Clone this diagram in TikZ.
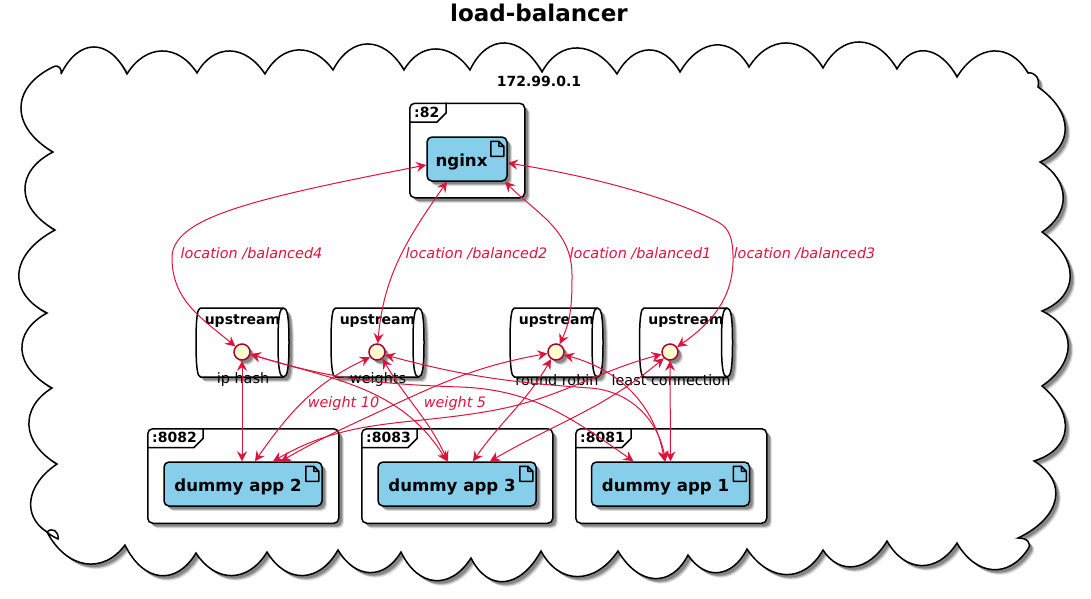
\documentclass[tikz,border=0pt]{standalone}
\usepackage{fontspec}
\setmainfont{DejaVu Sans}
\usetikzlibrary{arrows.meta,calc,shadows}
\definecolor{arrowred}{HTML}{DC143C}
\definecolor{artifactblue}{HTML}{87CEEB}
\definecolor{ifacefill}{HTML}{FEFECE}
\definecolor{ifacedraw}{HTML}{A80036}
\tikzset{
softshadow/.style={
drop shadow={shadow xshift=5pt,shadow yshift=-5pt,fill=black,opacity=.12},
drop shadow={shadow xshift=4pt,shadow yshift=-4pt,fill=black,opacity=.2},
drop shadow={shadow xshift=3pt,shadow yshift=-3pt,fill=black,opacity=.25}},
bump/.style args={#1/#2}{to path={.. controls ($(\tikztostart)!.27!(\tikztotarget)+1.333*(#1,#2)-.667*(\tikztostart)-.667*(\tikztotarget)$) and ($(\tikztotarget)!.27!(\tikztostart)+1.333*(#1,#2)-.667*(\tikztostart)-.667*(\tikztotarget)$) .. (\tikztotarget)}},
cloudline/.style={draw=black,fill=white,line width=1.5pt,line join=miter,softshadow},
framebox/.style={draw=black,fill=white,line width=1.5pt,rounded corners=5pt,softshadow,minimum width=#1,minimum height=94.5pt,inner sep=0pt},
framebox/.default=191pt,
artifact/.style={draw=black,fill=artifactblue,line width=1.5pt,rounded corners=5pt,softshadow,minimum width=#1,minimum height=44pt,inner sep=0pt,text height=15pt,text depth=0pt,font=\bfseries\fontsize{16.6}{20}\selectfont},
artifact/.default=158pt,
tubebox/.style={minimum width=93pt,minimum height=69pt,inner sep=0pt},
tubeline/.style={draw=black,fill=white,line width=1.5pt},
iface/.style={circle,draw=ifacedraw,fill=ifacefill,line width=1.5pt,minimum size=16pt,inner sep=0pt,softshadow},
boldtext/.style={font=\bfseries\fontsize{14}{16}\selectfont,inner sep=0pt},
plaintext/.style={font=\fontsize{14.4}{16}\selectfont,inner sep=0pt},
edgetext/.style={font=\itshape\fontsize{14.4}{16}\selectfont,text=arrowred,inner sep=0pt},
link/.style={draw=arrowred,line width=1pt,{Stealth[inset=3.5pt,length=10pt,width=10pt]}-{Stealth[inset=3.5pt,length=10pt,width=10pt]}}
}
\newcommand{\docicon}[1]{\draw[line width=1.5pt,line join=round] ([shift={(-17,5)}]#1.north east) -- ++(8,0) -- ++(5,5) -- ++(0,10) -- ++(-13,0) -- cycle ([shift={(-9,5)}]#1.north east) -- ++(0,5) -- ++(5,0);}
\begin{document}
\begin{tikzpicture}[x=1pt,y=-1pt]
\useasboundingbox (0,0) rectangle (1091,598);

\node[font=\bfseries\fontsize{23}{28}\selectfont,inner sep=0pt] (title) at (539,13) {load-balancer};

\draw[cloudline] (61,74) to[bump=94/47] (127,74) to[bump=162/51] (197,73) to[bump=230/51] (265,74) to[bump=298/50] (333,70) to[bump=368/44] (404,70) to[bump=436/49] (470,70) to[bump=505/43] (542,72) to[bump=578/48] (617,74) to[bump=649/50] (680,72) to[bump=716/45] (749,67) to[bump=787/43] (823,68) to[bump=860/42] (897,69) to[bump=927/51] (957,77) to[bump=994/51] (1028,73) .. controls (1035,72) and (1040,78) .. (1038,87) to[bump=1066/128] (1040,162) to[bump=1064/197] (1042,232) to[bump=1071/276] (1042,311) to[bump=1069/346] (1042,386) to[bump=1066/430] (1034,461) to[bump=1056/500] (1018,538) .. controls (1027,538) and (1032,543) .. (1028,549) to[bump=993/570] (957,543) to[bump=922/566] (887,541) to[bump=855/567] (823,550) to[bump=787/575] (747,549) to[bump=719/573] (688,555) to[bump=655/579] (618,551) to[bump=578/577] (541,551) to[bump=505/582] (471,558) to[bump=435/581] (401,552) to[bump=370/573] (338,550) to[bump=303/576] (267,552) to[bump=232/576] (196,553) to[bump=160/576] (125,545) to[bump=85/564] (47,532) .. controls (52,527) and (59,531) .. (58,539) .. controls (52,536) and (49,534) .. (47,532) to[bump=31/500] (57,464) to[bump=29/426] (52,388) to[bump=22/350] (47,313) to[bump=19/273] (55,230) to[bump=25/190] (53,152) to[bump=21/108] (53,67) .. controls (59,64) and (62,69) .. (61,74);

\node[boldtext] (cloudname) at (539,81) {172.99.0.1};

\node[framebox=115pt,anchor=north west] (f82) at (409,102.5) {};
\node[framebox,anchor=north west] (f8082) at (147,428) {};
\node[framebox,anchor=north west] (f8083) at (361,428) {};
\node[framebox,anchor=north west] (f8081) at (575,428) {};
\foreach \f/\t/\w in {f82/:82/37,f8082/:8082/56,f8083/:8083/56,f8081/:8081/56} {
\node[boldtext,anchor=west] (t\f) at ([shift={(5,9.5)}]\f.north west) {\t};
\draw[line width=1.5pt] ([yshift=-19.5]\f.north west) -- ++(\w-9,0) -- ++(9,-9) -- ++(0,-10.5);
}

\node[artifact=80pt] (nginx) at (467,159) {\hspace{-11pt}nginx};
\node[artifact] (app2) at (243,484) {\hspace{-10pt}dummy app 2};
\node[artifact] (app3) at (457,484) {\hspace{-10pt}dummy app 3};
\node[artifact] (app1) at (670.5,484) {\hspace{-10pt}dummy app 1};
\foreach \a in {nginx,app2,app3,app1} {\docicon{\a}}

\node[tubebox] (tubehash) at (242.5,342.5) {};
\node[tubebox] (tubeweights) at (377.5,342.5) {};
\node[tubebox] (tuberobin) at (556.5,342.5) {};
\node[tubebox] (tubeleast) at (686,342.5) {};
\foreach \u in {tubehash,tubeweights,tuberobin,tubeleast} {
\begin{scope}[shift={(\u.center)}]
\draw[tubeline,softshadow] (-42,-34.5) -- (41,-34.5) .. controls (45,-34.5) and (46.5,-25) .. (46.5,0) .. controls (46.5,25) and (45,34.5) .. (41,34.5) -- (-42,34.5) .. controls (-45,34.5) and (-46.5,25) .. (-46.5,0) .. controls (-46.5,-25) and (-45,-34.5) .. (-42,-34.5) -- cycle;
\draw[line width=1.5pt] (41,-34.5) .. controls (37,-34.5) and (35.5,-25) .. (35.5,0) .. controls (35.5,25) and (37,34.5) .. (41,34.5);
\end{scope}
\node[boldtext] (up\u) at ([yshift=21.5]\u.center) {upstream};
}

\node[iface] (hash) at (242,352) {};
\node[iface] (weights) at (377,352) {};
\node[iface] (robin) at (556,352) {};
\node[iface] (least) at (670,352) {};

\node[plaintext] (hashname) at (243,380) {ip hash};
\node[plaintext] (weightsname) at (378,380) {weights};
\node[plaintext] (robinname) at (557,380) {round robin};
\node[plaintext] (leastname) at (671,380) {least connection};

\draw[link] ([yshift=-6]nginx.west) to[out=191,in=90,out distance=180pt,in distance=40pt] (172,258) to[out=-90,in=140] (hash.140);
\draw[link] ([xshift=-20]nginx.south) to[out=-125,in=85] (weights.85);
\draw[link] ([xshift=38]nginx.south) to[out=-45,in=90] (572,275) to[out=-90,in=65] (robin.65);
\draw[link] ([yshift=-4]nginx.east) to[out=-9,in=152,out distance=100pt,in distance=40pt] (718,222) to[out=-28,in=92] (733,255) to[out=-88,in=35] (least.35);
\draw[link] (hash.south) -- ([xshift=-1]app2.north);
\draw[link] (hash.-15) to[out=-17,in=122] ([xshift=-10]app3.north);
\draw[link] (hash.-15) to[out=-17,in=178] (460,387) to[out=-2,in=145] ([xshift=-37]app1.north);
\draw[link] (weights.217) to[out=205,in=55] ([xshift=12]app2.north);
\draw[link] (weights.-50) to[out=-60,in=115] ([xshift=-9]app3.north);
\draw[link] (weights.-20) to[out=-15,in=176] (590,388) to[out=-4,in=100] ([xshift=-5]app1.north);
\draw[link] (robin.190) to[out=190,in=25] (387,408) to[out=205,in=30] ([xshift=38]app2.north);
\draw[link] (robin.-125) to[out=-120,in=55] ([xshift=16]app3.north);
\draw[link] (robin.-20) to[out=-15,in=100] ([xshift=-6]app1.north);
\draw[link] (least.195) to[out=195,in=10] (490,411) to[out=190,in=30] ([xshift=30]app2.north);
\draw[link] (least.225) to[out=-140,in=30] ([xshift=33]app3.north);
\draw[link] (least.south) -- ([xshift=0]app1.north);

\node[edgetext] (lab4) at (251.5,254) {location /balanced4};
\node[edgetext] (lab2) at (476.5,254) {location /balanced2};
\node[edgetext] (lab1) at (640.5,254) {location /balanced1};
\node[edgetext] (lab3) at (804.5,254) {location /balanced3};
\node[edgetext] (lab10) at (343.5,404) {weight 10};
\node[edgetext] (lab5) at (455,404) {weight 5};

\end{tikzpicture}
\end{document}
